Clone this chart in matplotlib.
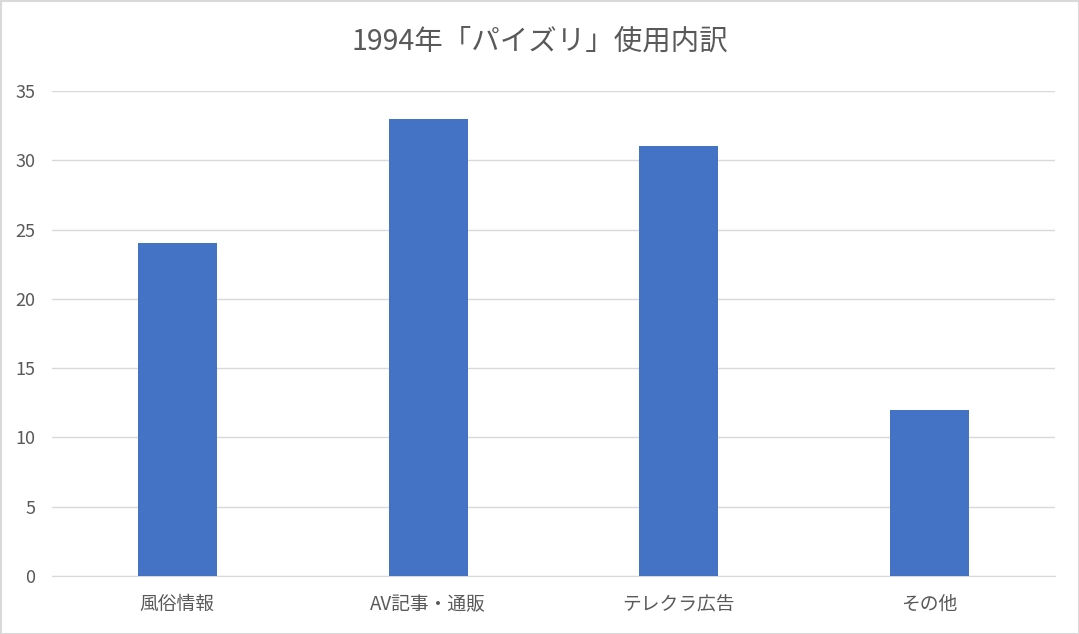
import matplotlib
matplotlib.use("Agg")
import matplotlib.pyplot as plt
from matplotlib.patches import Rectangle

plt.rcParams['font.family'] = ['Noto Sans CJK JP', 'DejaVu Sans']

categories = ["風俗情報", "AV記事・通販", "テレクラ広告", "その他"]
values = [24, 33, 31, 12]
yticks = [0, 5, 10, 15, 20, 25, 30, 35]
title = "1994年「パイズリ」使用内訳"

fig = plt.figure(figsize=(10.79, 6.34), dpi=100)
ax = fig.add_axes([52/1079, 1-576/634, (1055-52)/1079, (576-91)/634])

x = range(len(categories))
ax.bar(x, values, width=0.315, color="#4472C4", zorder=3)
ax.set_xlim(-0.5, len(categories)-0.5)
ax.set_ylim(0, 35)
ax.set_yticks(yticks)
ax.set_xticks(list(x))
ax.set_xticklabels(categories)
ax.grid(axis='y', color="#D9D9D9", linewidth=1, zorder=0)
for s in ['top', 'right', 'left']:
    ax.spines[s].set_visible(False)
ax.spines['bottom'].set_color("#D9D9D9")
ax.tick_params(axis='both', length=0, colors="#595959", labelsize=13)
ax.tick_params(axis='x', labelsize=13.5, pad=13)
ax.tick_params(axis='y', pad=12)

fig.text(0.5, 1-42/634, title, ha='center', va='center', fontsize=20.5, color="#595959")
fig.patches.append(Rectangle((0.5/1079, 0.5/634), 1-1/1079, 1-1/634, transform=fig.transFigure,
                             fill=False, edgecolor="#D9D9D9", linewidth=1.5))
fig.savefig("out.png", dpi=100)
